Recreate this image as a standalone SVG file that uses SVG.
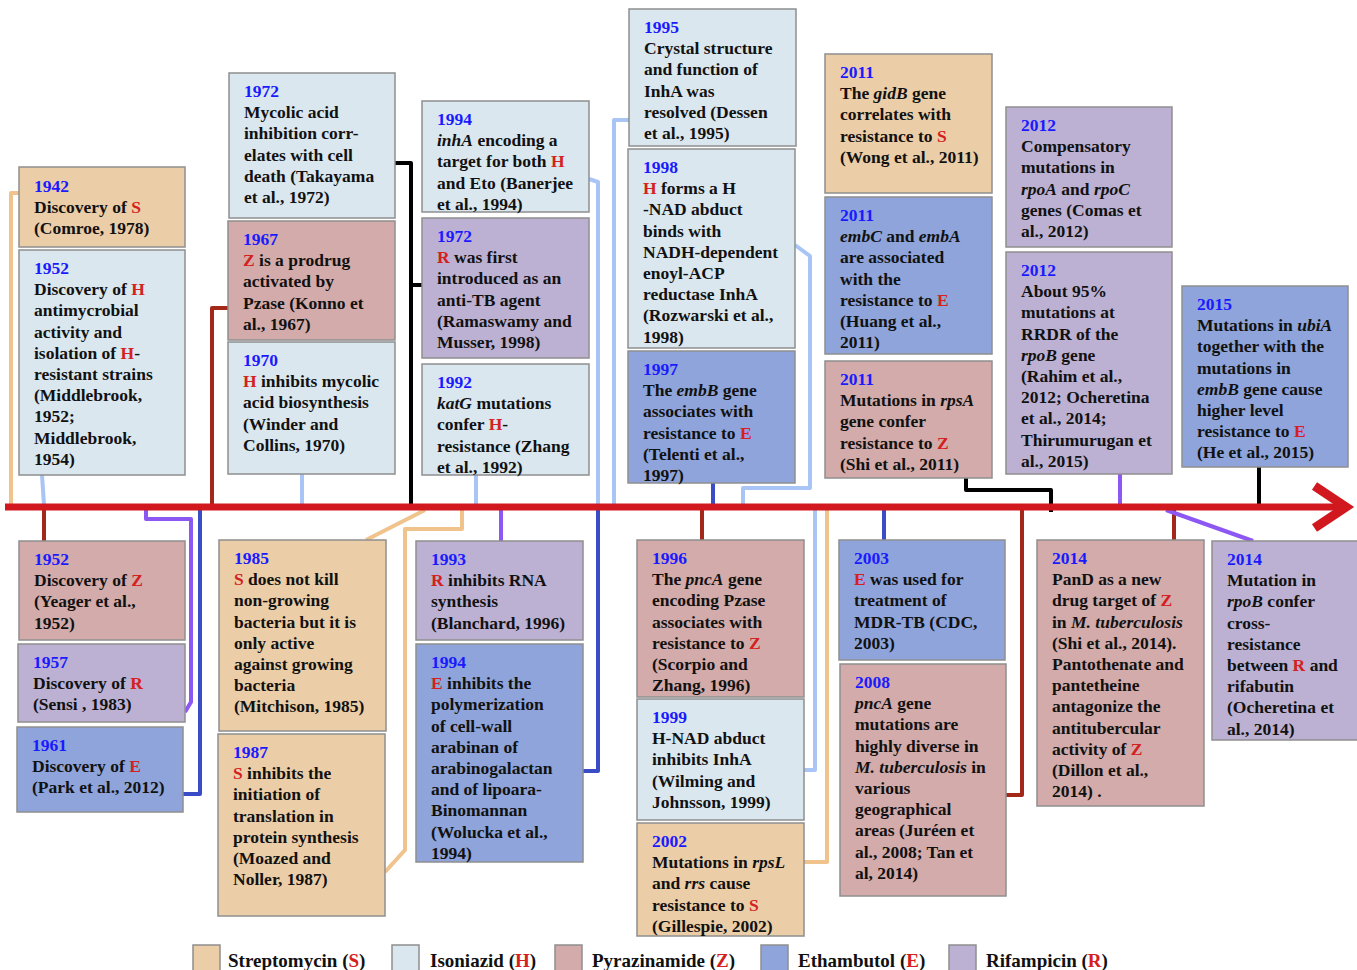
<svg xmlns="http://www.w3.org/2000/svg" width="1357" height="970" viewBox="0 0 1357 970">
<style>
.b{stroke:#8f8f8f;stroke-width:1.5}
.s{fill:#EBCDA8}.h{fill:#DAE7EF}.z{fill:#D2ABAA}.e{fill:#8EA4DA}.r{fill:#BCB1D3}
text{font-family:"Liberation Serif","Times New Roman",serif;font-weight:bold;font-size:17.5px;fill:#111}
.y{fill:#1a1aff}.d{fill:#d42020}.i{font-style:italic}
.c{fill:none;stroke-width:4;stroke-linejoin:round}
.cs{stroke:#F0C28C}.ch{stroke:#A9C5F6}.cz{stroke:#A3281A}.ce{stroke:#3B4DC6}.cr{stroke:#8C57F2}.ck{stroke:#000}
.lg{font-size:19px}
</style>
<defs>
<marker id="arr" markerWidth="8" markerHeight="8" refX="6" refY="4" orient="auto" markerUnits="strokeWidth">
<path d="M1.5,1 L6,4 L1.5,7" fill="none" stroke="#D0181E" stroke-width="1.3"/>
</marker>
</defs>
<rect width="1357" height="970" fill="#fff"/>
<g id="connectors">
<path class="c cs" d="M19,193 H11 V505"/>
<path class="c ch" d="M42,475 L44,505"/>
<path class="c cz" d="M228,308 H212 V505"/>
<path class="c ch" d="M302,474 V505"/>
<path class="c ck" d="M395,163 H411 V505 M411,285 H422"/>
<path class="c ch" d="M589,179 L598,182 V505"/>
<path class="c ch" d="M476,475 V505"/>
<path class="c ch" d="M629,120 H614 V505"/>
<path class="c ch" d="M795,245 L810,256 V488 H743 V505"/>
<path class="c ce" d="M713,483 V505"/>
<path class="c ck" d="M966,478 V490 H1051 V512"/>
<path class="c cr" d="M1120,474 V505"/>
<path class="c ck" d="M1259,467 V505"/>
<path class="c cz" d="M44,509 V541"/>
<path class="c cr" d="M146,509 V519 H191 V702 L185,712"/>
<path class="c ce" d="M200,509 V794 H183"/>
<path class="c cs" d="M366,540 L425,510"/>
<path class="c cs" d="M385,872 L405,850 V529 H462 V510"/>
<path class="c cr" d="M501,509 V541"/>
<path class="c ce" d="M583,771 H598 V509"/>
<path class="c cz" d="M702,509 V540"/>
<path class="c ch" d="M804,770 H815 V509"/>
<path class="c cs" d="M804,862 H827 V509"/>
<path class="c ce" d="M884,509 V540"/>
<path class="c cz" d="M1006,795 H1022 V509"/>
<path class="c cz" d="M1174,509 V540"/>
<path class="c cr" d="M1166,510 L1253,541"/>
</g>
<g id="timeline">
<line x1="5" y1="507" x2="1346" y2="507" stroke="#D0181E" stroke-width="7" marker-end="url(#arr)"/>
</g>

<g id="n1942S"><rect class="b s" x="19" y="167" width="166" height="80"/>
<text x="34" y="192"><tspan class="y">1942</tspan><tspan x="34" dy="21.2">Discovery of  <tspan class="d">S</tspan></tspan><tspan x="34" dy="21.2">(Comroe, 1978)</tspan></text></g>

<g id="n1952H"><rect class="b h" x="19" y="250" width="166" height="225"/>
<text x="34" y="274"><tspan class="y">1952</tspan><tspan x="34" dy="21.2">Discovery of <tspan class="d">H</tspan></tspan><tspan x="34" dy="21.2">antimycrobial</tspan><tspan x="34" dy="21.2">activity  and</tspan><tspan x="34" dy="21.2">isolation of <tspan class="d">H</tspan>-</tspan><tspan x="34" dy="21.2">resistant strains</tspan><tspan x="34" dy="21.2">(Middlebrook,</tspan><tspan x="34" dy="21.2">1952;</tspan><tspan x="34" dy="21.2">Middlebrook,</tspan><tspan x="34" dy="21.2">1954)</tspan></text></g>

<g id="n1972H"><rect class="b h" x="229" y="73" width="166" height="145"/>
<text x="244" y="97"><tspan class="y">1972</tspan><tspan x="244" dy="21.2">Mycolic acid</tspan><tspan x="244" dy="21.2">inhibition corr-</tspan><tspan x="244" dy="21.2">elates with cell</tspan><tspan x="244" dy="21.2">death (Takayama</tspan><tspan x="244" dy="21.2">et al., 1972)</tspan></text></g>

<g id="n1967Z"><rect class="b z" x="228" y="221" width="167" height="119"/>
<text x="243" y="245"><tspan class="y">1967</tspan><tspan x="243" dy="21.2"><tspan class="d">Z</tspan> is a prodrug</tspan><tspan x="243" dy="21.2">activated by</tspan><tspan x="243" dy="21.2">Pzase (Konno et</tspan><tspan x="243" dy="21.2">al., 1967)</tspan></text></g>

<g id="n1970H"><rect class="b h" x="228" y="342" width="167" height="132"/>
<text x="243" y="366"><tspan class="y">1970</tspan><tspan x="243" dy="21.2"><tspan class="d">H</tspan> inhibits mycolic</tspan><tspan x="243" dy="21.2">acid biosynthesis</tspan><tspan x="243" dy="21.2">(Winder and</tspan><tspan x="243" dy="21.2">Collins, 1970)</tspan></text></g>

<g id="n1994H"><rect class="b h" x="422" y="101" width="167" height="111"/>
<text x="437" y="125"><tspan class="y">1994</tspan><tspan x="437" dy="21.2"><tspan class="i">inhA</tspan> encoding a</tspan><tspan x="437" dy="21.2">target for both  <tspan class="d">H</tspan></tspan><tspan x="437" dy="21.2">and Eto (Banerjee</tspan><tspan x="437" dy="21.2">et al., 1994)</tspan></text></g>

<g id="n1972R"><rect class="b r" x="422" y="218" width="167" height="140"/>
<text x="437" y="242"><tspan class="y">1972</tspan><tspan x="437" dy="21.2"><tspan class="d">R</tspan> was first</tspan><tspan x="437" dy="21.2">introduced as an</tspan><tspan x="437" dy="21.2">anti-TB agent</tspan><tspan x="437" dy="21.2">(Ramaswamy and</tspan><tspan x="437" dy="21.2">Musser, 1998)</tspan></text></g>

<g id="n1992H"><rect class="b h" x="422" y="364" width="167" height="111"/>
<text x="437" y="388"><tspan class="y">1992</tspan><tspan x="437" dy="21.2"><tspan class="i">katG</tspan> mutations</tspan><tspan x="437" dy="21.2">confer <tspan class="d">H</tspan>-</tspan><tspan x="437" dy="21.2">resistance (Zhang</tspan><tspan x="437" dy="21.2">et al., 1992)</tspan></text></g>

<g id="n1995H"><rect class="b h" x="629" y="9" width="167" height="137"/>
<text x="644" y="33"><tspan class="y">1995</tspan><tspan x="644" dy="21.2">Crystal structure</tspan><tspan x="644" dy="21.2">and function of</tspan><tspan x="644" dy="21.2">InhA was</tspan><tspan x="644" dy="21.2">resolved  (Dessen</tspan><tspan x="644" dy="21.2">et al., 1995)</tspan></text></g>

<g id="n1998H"><rect class="b h" x="628" y="149" width="167" height="199"/>
<text x="643" y="173"><tspan class="y">1998</tspan><tspan x="643" dy="21.2"><tspan class="d">H</tspan> forms a H</tspan><tspan x="643" dy="21.2">-NAD abduct</tspan><tspan x="643" dy="21.2">binds with</tspan><tspan x="643" dy="21.2">NADH-dependent</tspan><tspan x="643" dy="21.2">enoyl-ACP</tspan><tspan x="643" dy="21.2">reductase InhA</tspan><tspan x="643" dy="21.2">(Rozwarski et al.,</tspan><tspan x="643" dy="21.2">1998)</tspan></text></g>

<g id="n1997E"><rect class="b e" x="628" y="351" width="167" height="132"/>
<text x="643" y="375"><tspan class="y">1997</tspan><tspan x="643" dy="21.2">The <tspan class="i">embB</tspan> gene</tspan><tspan x="643" dy="21.2">associates with</tspan><tspan x="643" dy="21.2">resistance to <tspan class="d">E</tspan></tspan><tspan x="643" dy="21.2">(Telenti et al.,</tspan><tspan x="643" dy="21.2">1997)</tspan></text></g>

<g id="n2011S"><rect class="b s" x="825" y="54" width="167" height="139"/>
<text x="840" y="78"><tspan class="y">2011</tspan><tspan x="840" dy="21.2">The <tspan class="i">gidB</tspan> gene</tspan><tspan x="840" dy="21.2">correlates with</tspan><tspan x="840" dy="21.2">resistance to <tspan class="d">S</tspan></tspan><tspan x="840" dy="21.2">(Wong et al., 2011)</tspan></text></g>

<g id="n2011E"><rect class="b e" x="825" y="197" width="167" height="157"/>
<text x="840" y="221"><tspan class="y">2011</tspan><tspan x="840" dy="21.2"><tspan class="i">embC</tspan> and <tspan class="i">embA</tspan></tspan><tspan x="840" dy="21.2">are associated</tspan><tspan x="840" dy="21.2">with the</tspan><tspan x="840" dy="21.2">resistance to <tspan class="d">E</tspan></tspan><tspan x="840" dy="21.2">(Huang et al.,</tspan><tspan x="840" dy="21.2">2011)</tspan></text></g>

<g id="n2011Z"><rect class="b z" x="825" y="361" width="167" height="117"/>
<text x="840" y="385"><tspan class="y">2011</tspan><tspan x="840" dy="21.2">Mutations in <tspan class="i">rpsA</tspan></tspan><tspan x="840" dy="21.2">gene confer</tspan><tspan x="840" dy="21.2">resistance to <tspan class="d">Z</tspan></tspan><tspan x="840" dy="21.2">(Shi et al., 2011)</tspan></text></g>

<g id="n2012Ra"><rect class="b r" x="1006" y="107" width="166" height="140"/>
<text x="1021" y="131"><tspan class="y">2012</tspan><tspan x="1021" dy="21.2">Compensatory</tspan><tspan x="1021" dy="21.2">mutations in</tspan><tspan x="1021" dy="21.2"><tspan class="i">rpoA</tspan> and <tspan class="i">rpoC</tspan></tspan><tspan x="1021" dy="21.2">genes  (Comas et</tspan><tspan x="1021" dy="21.2">al., 2012)</tspan></text></g>

<g id="n2012Rb"><rect class="b r" x="1006" y="252" width="166" height="222"/>
<text x="1021" y="276"><tspan class="y">2012</tspan><tspan x="1021" dy="21.2">About 95%</tspan><tspan x="1021" dy="21.2">mutations at</tspan><tspan x="1021" dy="21.2">RRDR of the</tspan><tspan x="1021" dy="21.2"><tspan class="i">rpoB</tspan> gene</tspan><tspan x="1021" dy="21.2">(Rahim et al.,</tspan><tspan x="1021" dy="21.2">2012; Ocheretina</tspan><tspan x="1021" dy="21.2">et al., 2014;</tspan><tspan x="1021" dy="21.2">Thirumurugan et</tspan><tspan x="1021" dy="21.2">al., 2015)</tspan></text></g>

<g id="n2015E"><rect class="b e" x="1182" y="286" width="166" height="181"/>
<text x="1197" y="310"><tspan class="y">2015</tspan><tspan x="1197" dy="21.2">Mutations in <tspan class="i">ubiA</tspan></tspan><tspan x="1197" dy="21.2">together  with the</tspan><tspan x="1197" dy="21.2">mutations in</tspan><tspan x="1197" dy="21.2"><tspan class="i">embB</tspan>  gene cause</tspan><tspan x="1197" dy="21.2">higher level</tspan><tspan x="1197" dy="21.2">resistance to <tspan class="d">E</tspan></tspan><tspan x="1197" dy="21.2">(He et al., 2015)</tspan></text></g>

<g id="n1952Z"><rect class="b z" x="19" y="541" width="166" height="99"/>
<text x="34" y="565"><tspan class="y">1952</tspan><tspan x="34" dy="21.2">Discovery of <tspan class="d">Z</tspan></tspan><tspan x="34" dy="21.2">(Yeager et al.,</tspan><tspan x="34" dy="21.2">1952)</tspan></text></g>

<g id="n1957R"><rect class="b r" x="18" y="644" width="167" height="78"/>
<text x="33" y="668"><tspan class="y">1957</tspan><tspan x="33" dy="21.2">Discovery of <tspan class="d">R</tspan></tspan><tspan x="33" dy="21.2">(Sensi , 1983)</tspan></text></g>

<g id="n1961E"><rect class="b e" x="17" y="727" width="166" height="85"/>
<text x="32" y="751"><tspan class="y">1961</tspan><tspan x="32" dy="21.2">Discovery of  <tspan class="d">E</tspan></tspan><tspan x="32" dy="21.2">(Park et al., 2012)</tspan></text></g>

<g id="n1985S"><rect class="b s" x="219" y="540" width="167" height="191"/>
<text x="234" y="564"><tspan class="y">1985</tspan><tspan x="234" dy="21.2"><tspan class="d">S</tspan> does not kill</tspan><tspan x="234" dy="21.2">non-growing</tspan><tspan x="234" dy="21.2">bacteria but it is</tspan><tspan x="234" dy="21.2">only active</tspan><tspan x="234" dy="21.2">against growing</tspan><tspan x="234" dy="21.2">bacteria</tspan><tspan x="234" dy="21.2">(Mitchison, 1985)</tspan></text></g>

<g id="n1987S"><rect class="b s" x="218" y="734" width="167" height="182"/>
<text x="233" y="758"><tspan class="y">1987</tspan><tspan x="233" dy="21.2"><tspan class="d">S</tspan> inhibits the</tspan><tspan x="233" dy="21.2">initiation of</tspan><tspan x="233" dy="21.2">translation in</tspan><tspan x="233" dy="21.2">protein synthesis</tspan><tspan x="233" dy="21.2">(Moazed and</tspan><tspan x="233" dy="21.2">Noller, 1987)</tspan></text></g>

<g id="n1993R"><rect class="b r" x="416" y="541" width="167" height="99"/>
<text x="431" y="565"><tspan class="y">1993</tspan><tspan x="431" dy="21.2"><tspan class="d">R</tspan> inhibits RNA</tspan><tspan x="431" dy="21.2">synthesis</tspan><tspan x="431" dy="21.2">(Blanchard, 1996)</tspan></text></g>

<g id="n1994E"><rect class="b e" x="416" y="644" width="167" height="218"/>
<text x="431" y="668"><tspan class="y">1994</tspan><tspan x="431" dy="21.2"><tspan class="d">E</tspan> inhibits the</tspan><tspan x="431" dy="21.2">polymerization</tspan><tspan x="431" dy="21.2">of cell-wall</tspan><tspan x="431" dy="21.2">arabinan of</tspan><tspan x="431" dy="21.2">arabinogalactan</tspan><tspan x="431" dy="21.2">and of lipoara-</tspan><tspan x="431" dy="21.2">Binomannan</tspan><tspan x="431" dy="21.2">(Wolucka et al.,</tspan><tspan x="431" dy="21.2">1994)</tspan></text></g>

<g id="n1996Z"><rect class="b z" x="637" y="540" width="167" height="157"/>
<text x="652" y="564"><tspan class="y">1996</tspan><tspan x="652" dy="21.2">The <tspan class="i">pncA</tspan> gene</tspan><tspan x="652" dy="21.2">encoding Pzase</tspan><tspan x="652" dy="21.2">associates with</tspan><tspan x="652" dy="21.2">resistance to <tspan class="d">Z</tspan></tspan><tspan x="652" dy="21.2">(Scorpio and</tspan><tspan x="652" dy="21.2">Zhang, 1996)</tspan></text></g>

<g id="n1999H"><rect class="b h" x="637" y="699" width="167" height="121"/>
<text x="652" y="723"><tspan class="y">1999</tspan><tspan x="652" dy="21.2">H-NAD abduct</tspan><tspan x="652" dy="21.2">inhibits InhA</tspan><tspan x="652" dy="21.2">(Wilming and</tspan><tspan x="652" dy="21.2">Johnsson, 1999)</tspan></text></g>

<g id="n2002S"><rect class="b s" x="637" y="823" width="167" height="113"/>
<text x="652" y="847"><tspan class="y">2002</tspan><tspan x="652" dy="21.2">Mutations in <tspan class="i">rpsL</tspan></tspan><tspan x="652" dy="21.2">and <tspan class="i">rrs</tspan> cause</tspan><tspan x="652" dy="21.2">resistance to <tspan class="d">S</tspan></tspan><tspan x="652" dy="21.2">(Gillespie, 2002)</tspan></text></g>

<g id="n2003E"><rect class="b e" x="839" y="540" width="166" height="120"/>
<text x="854" y="564"><tspan class="y">2003</tspan><tspan x="854" dy="21.2"><tspan class="d">E</tspan> was used  for</tspan><tspan x="854" dy="21.2">treatment of</tspan><tspan x="854" dy="21.2">MDR-TB (CDC,</tspan><tspan x="854" dy="21.2">2003)</tspan></text></g>

<g id="n2008Z"><rect class="b z" x="840" y="664" width="166" height="232"/>
<text x="855" y="688"><tspan class="y">2008</tspan><tspan x="855" dy="21.2"><tspan class="i">pncA</tspan> gene</tspan><tspan x="855" dy="21.2">mutations are</tspan><tspan x="855" dy="21.2">highly diverse in</tspan><tspan x="855" dy="21.2"><tspan class="i">M. tuberculosis</tspan> in</tspan><tspan x="855" dy="21.2">various</tspan><tspan x="855" dy="21.2">geographical</tspan><tspan x="855" dy="21.2">areas (Juréen et</tspan><tspan x="855" dy="21.2">al., 2008; Tan et</tspan><tspan x="855" dy="21.2">al, 2014)</tspan></text></g>

<g id="n2014Z"><rect class="b z" x="1037" y="540" width="167" height="266"/>
<text x="1052" y="564"><tspan class="y">2014</tspan><tspan x="1052" dy="21.2">PanD  as a new</tspan><tspan x="1052" dy="21.2">drug target of <tspan class="d">Z</tspan></tspan><tspan x="1052" dy="21.2">in <tspan class="i">M. tuberculosis</tspan></tspan><tspan x="1052" dy="21.2">(Shi  et al., 2014).</tspan><tspan x="1052" dy="21.2">Pantothenate and</tspan><tspan x="1052" dy="21.2">pantetheine</tspan><tspan x="1052" dy="21.2">antagonize the</tspan><tspan x="1052" dy="21.2">antitubercular</tspan><tspan x="1052" dy="21.2">activity of <tspan class="d">Z</tspan></tspan><tspan x="1052" dy="21.2">(Dillon et al.,</tspan><tspan x="1052" dy="21.2">2014) .</tspan></text></g>

<g id="n2014R"><rect class="b r" x="1212" y="541" width="150" height="199"/>
<text x="1227" y="565"><tspan class="y">2014</tspan><tspan x="1227" dy="21.2">Mutation in</tspan><tspan x="1227" dy="21.2"><tspan class="i">rpoB</tspan> confer</tspan><tspan x="1227" dy="21.2">cross-</tspan><tspan x="1227" dy="21.2">resistance</tspan><tspan x="1227" dy="21.2">between <tspan class="d">R</tspan> and</tspan><tspan x="1227" dy="21.2">rifabutin</tspan><tspan x="1227" dy="21.2">(Ocheretina et</tspan><tspan x="1227" dy="21.2">al., 2014)</tspan></text></g>

<g id="legend">
<rect class="b s" x="193" y="945" width="27" height="30"/>
<text class="lg" x="228" y="967">Streptomycin (<tspan class="d">S</tspan>)</text>
<rect class="b h" x="392" y="945" width="27" height="30"/>
<text class="lg" x="430" y="967">Isoniazid (<tspan class="d">H</tspan>)</text>
<rect class="b z" x="555" y="945" width="27" height="30"/>
<text class="lg" x="592" y="967">Pyrazinamide (<tspan class="d">Z</tspan>)</text>
<rect class="b e" x="761" y="945" width="27" height="30"/>
<text class="lg" x="798" y="967">Ethambutol (<tspan class="d">E</tspan>)</text>
<rect class="b r" x="949" y="945" width="27" height="30"/>
<text class="lg" x="986" y="967">Rifampicin (<tspan class="d">R</tspan>)</text>
</g>
</svg>
